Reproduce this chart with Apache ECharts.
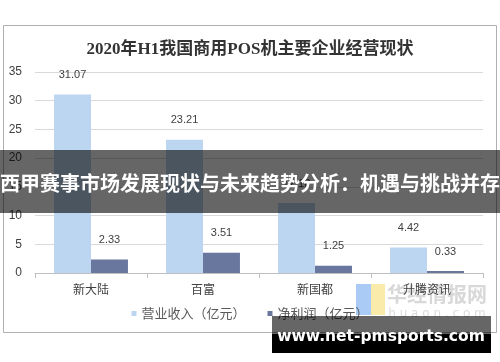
<!DOCTYPE html>
<html><head><meta charset="utf-8">
<script src="https://cdn.jsdelivr.net/npm/echarts@6/dist/echarts.min.js"></script>
<style>html,body{margin:0;padding:0;background:#fff}#c{width:500px;height:362px}</style>
</head><body><div id="c"></div>
<script>
const categories = ['新大陆', '百富', '新国都', '升腾资讯'];
const revenue = [31.07, 23.21, 12.18, 4.42];
const profit = [2.33, 3.51, 1.25, 0.33];
const seriesNames = ['营业收入（亿元）', '净利润（亿元）'];
const yTicks = [0, 5, 10, 15, 20, 25, 30, 35];
const titleText = '2020年H1我国商用POS机主要企业经营现状';
const bannerText = '西甲赛事市场发展现状与未来趋势分析：机遇与挑战并存';
const urlText = 'www.net-pmsports.com';

const chart = echarts.init(document.getElementById('c'), null, {renderer: 'canvas'});
const lbl = {show: true, position: 'top', distance: 14, color: '#404040', fontSize: 11, fontFamily: 'Liberation Sans, Arial, sans-serif'};
chart.setOption({
  animation: false,
  backgroundColor: '#fff',
  title: {text: titleText, left: 'center', top: 36,
    textStyle: {fontSize: 17, fontWeight: 'bold', color: '#333', fontFamily: 'Liberation Serif, Noto Sans CJK SC, serif'}},
  grid: {left: 35, right: 17, top: 72, bottom: 89, containLabel: false},
  legend: {bottom: 37, left: 'center', itemWidth: 5, itemHeight: 5, itemGap: 22, icon: 'rect',
    textStyle: {fontSize: 13, color: '#595959', fontFamily: 'Noto Sans CJK SC, sans-serif'}, data: seriesNames},
  xAxis: {type: 'category', data: categories, z: 10,
    axisLine: {lineStyle: {color: '#bfbfbf'}},
    axisTick: {show: true, length: 5, lineStyle: {color: '#bfbfbf'}},
    axisLabel: {color: '#404040', fontSize: 12, margin: 10, fontFamily: 'Noto Sans CJK SC, sans-serif'}},
  yAxis: {type: 'value', min: yTicks[0], max: yTicks[yTicks.length - 1], interval: 5,
    axisLine: {show: false}, axisTick: {show: false},
    splitLine: {lineStyle: {color: '#d9d9d9'}},
    axisLabel: {color: '#404040', fontSize: 12, margin: 13, fontFamily: 'Liberation Sans, Arial, sans-serif'}},
  series: [
    {name: seriesNames[0], type: 'bar', data: revenue, barGap: '0%', barCategoryGap: '34%',
      itemStyle: {color: '#bcd5f0'}, label: lbl},
    {name: seriesNames[1], type: 'bar', data: profit,
      itemStyle: {color: '#69769e'}, label: lbl}
  ],
  graphic: [
    {type: 'rect', shape: {x: 3.5, y: 25.5, width: 493, height: 307}, style: {fill: 'none', stroke: '#b0b0b0', lineWidth: 1}, z: 1},
    {type: 'rect', shape: {x: 356, y: 284, width: 15, height: 31}, style: {fill: 'rgba(150,190,245,0.8)'}, z: 0},
    {type: 'rect', shape: {x: 371, y: 284, width: 14, height: 31}, style: {fill: 'rgba(250,230,150,0.8)'}, z: 0},
    {type: 'text', x: 437, y: 294, style: {text: '华经情报网', fill: 'rgba(200,200,200,0.7)', font: 'bold 20px Noto Sans CJK SC', textAlign: 'center', textVerticalAlign: 'middle'}, z: 0},
    {type: 'text', x: 437, y: 314, style: {text: 'h u a o n . c o m', fill: 'rgba(205,205,205,0.7)', font: '12px DejaVu Sans', textAlign: 'center', textVerticalAlign: 'middle'}, z: 0},
    {type: 'rect', shape: {x: 0, y: 150, width: 500, height: 63}, style: {fill: 'rgba(0,0,0,0.6)'}, z: 100},
    {type: 'text', x: 250, y: 183, style: {text: bannerText, fill: '#fff', font: 'bold 20px Noto Sans CJK SC', textAlign: 'center', textVerticalAlign: 'middle'}, z: 101},
    {type: 'rect', shape: {x: 272, y: 316, width: 219, height: 18}, style: {fill: 'rgba(0,0,0,0.6)'}, z: 100},
    {type: 'rect', shape: {x: 272, y: 334, width: 219, height: 19}, style: {fill: '#000'}, z: 100},
    {type: 'text', x: 381, y: 337, style: {text: urlText, fill: '#fff', font: 'bold 15.5px DejaVu Sans', textAlign: 'center', textVerticalAlign: 'middle'}, z: 101}
  ]
});
</script></body></html>
